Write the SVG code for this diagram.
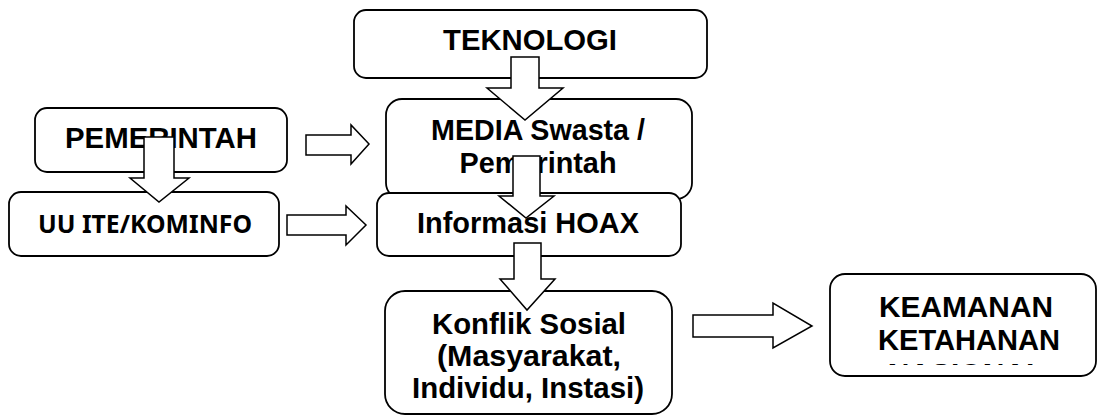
<svg xmlns="http://www.w3.org/2000/svg" width="1098" height="419" viewBox="0 0 1098 419">
<style>
.box{fill:#fff;stroke:#000;stroke-width:1.8}
.arr{fill:#fff;stroke:#000;stroke-width:1.5;stroke-linejoin:miter}
.t{font-family:"Liberation Sans",Arial,sans-serif;font-weight:bold;font-size:30px;fill:#000;text-anchor:middle}
.c{font-family:"Noto Sans","Open Sans",sans-serif;font-weight:bold;font-size:25px;fill:#000;text-anchor:middle}
</style>
<defs>
<clipPath id="clipNas"><rect x="830" y="274" width="266" height="91"/></clipPath>
</defs>
<rect width="1098" height="419" fill="#fff"/>
<g id="teknologi">
<rect class="box" x="354" y="10" width="353" height="68" rx="12"/>
<text class="t" x="530" y="50" textLength="174" lengthAdjust="spacingAndGlyphs">TEKNOLOGI</text>
</g>
<g id="pemerintah">
<rect class="box" x="35" y="108" width="252" height="64" rx="12"/>
<text class="t" x="161" y="148" textLength="192" lengthAdjust="spacingAndGlyphs">PEMERINTAH</text>
</g>
<g id="media">
<rect class="box" x="386" y="99" width="306" height="100" rx="16"/>
<text class="t" x="538" y="140" textLength="214" lengthAdjust="spacingAndGlyphs">MEDIA Swasta /</text>
<text class="t" x="538" y="173" textLength="157" lengthAdjust="spacingAndGlyphs">Pemerintah</text>
</g>
<g id="uuite">
<rect class="box" x="9" y="192" width="270" height="64" rx="12"/>
<text class="c" x="145" y="233" textLength="214" lengthAdjust="spacingAndGlyphs">UU ITE/KOMINFO</text>
</g>
<g id="informasi">
<rect class="box" x="377" y="193" width="304" height="63" rx="12"/>
<text class="t" x="528" y="233" textLength="222" lengthAdjust="spacingAndGlyphs">Informasi HOAX</text>
</g>
<g id="konflik">
<rect class="box" x="385" y="291" width="287" height="123" rx="20"/>
<text class="t" x="529" y="334" textLength="194" lengthAdjust="spacingAndGlyphs">Konflik Sosial</text>
<text class="t" x="529" y="366" textLength="184" lengthAdjust="spacingAndGlyphs">(Masyarakat,</text>
<text class="t" x="528" y="398" textLength="232" lengthAdjust="spacingAndGlyphs">Individu, Instasi)</text>
</g>
<g id="keamanan">
<rect class="box" x="830" y="274" width="266" height="102" rx="15"/>
<text class="t" x="966" y="317" textLength="174" lengthAdjust="spacingAndGlyphs">KEAMANAN</text>
<text class="t" x="969" y="350" textLength="182" lengthAdjust="spacingAndGlyphs">KETAHANAN</text>
<text class="t" x="966" y="384" clip-path="url(#clipNas)">NASIONAL</text>
</g>
<g id="connectors">
<polygon class="arr" points="511,57 539,57 539,88 563,88 525,120 487,88 511,88"/>
<polygon class="arr" points="144,137 174,137 174,178 189,178 159,202 130,178 144,178"/>
<polygon class="arr" points="513,156 540,156 540,196 554,196 526,218 499,196 513,196"/>
<polygon class="arr" points="514,243 541,243 541,279 555,279 527,310 500,279 514,279"/>
<polygon class="arr" points="306,135 351,135 351,125 369,144 351,164 351,155 306,155"/>
<polygon class="arr" points="287,215 346,215 346,206 366,225 346,245 346,235 287,235"/>
<polygon class="arr" points="693,315 773,315 773,303 812,326 773,348 773,337 693,337"/>
</g>
</svg>
